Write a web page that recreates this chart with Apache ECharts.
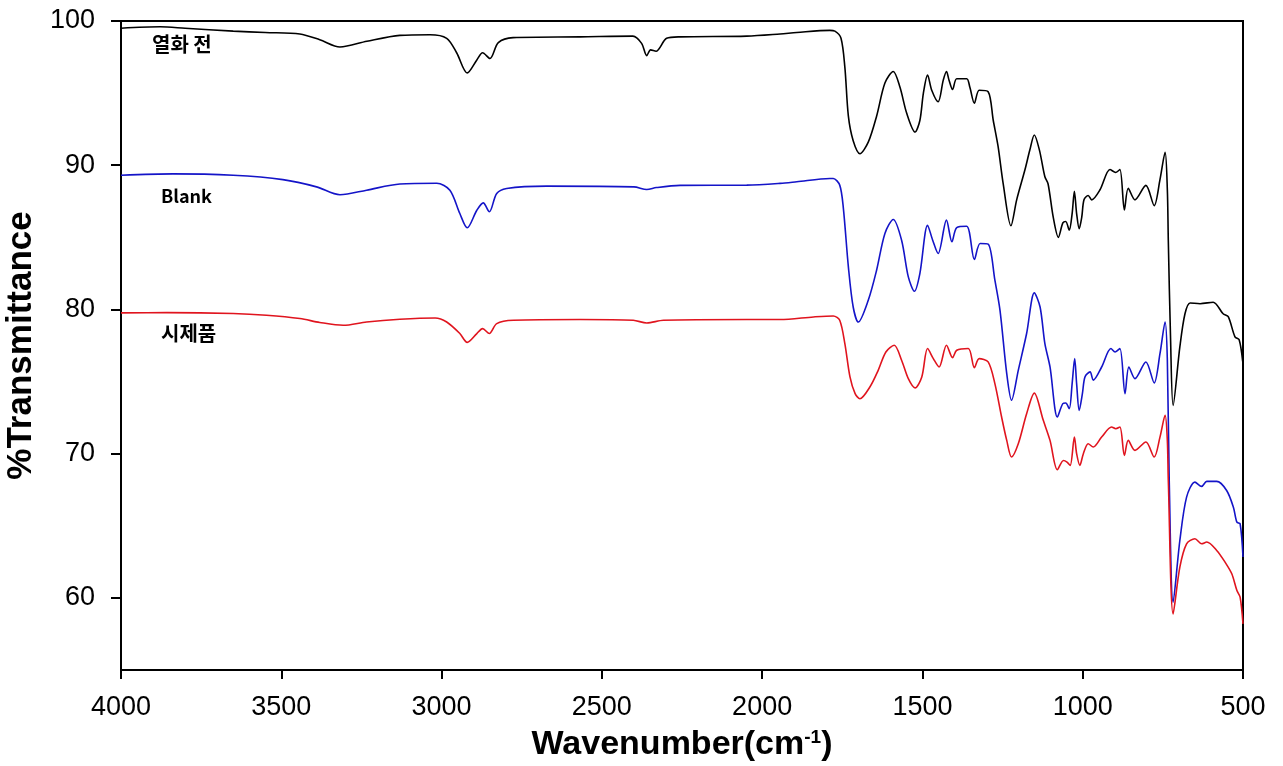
<!DOCTYPE html>
<html>
<head>
<meta charset="utf-8">
<script src="https://cdn.jsdelivr.net/npm/echarts@6/dist/echarts.min.js"></script>
<style>
  html, body { margin: 0; padding: 0; background: #fff; }
  #chart { width: 1283px; height: 766px; }
</style>
</head>
<body>
<div id="chart"></div>
<script>
// wavenumber (cm-1), %T
const beforeAging = [
  [4000, 99.5], [3878, 99.6], [3800, 99.5], [3650, 99.3], [3550, 99.2], [3442, 99.1],
  [3380, 98.7], [3317, 98.2], [3233, 98.6], [3130, 99.0], [3036, 99.05], [2984, 98.8],
  [2953, 97.8], [2920, 96.4], [2890, 97.3], [2872, 97.8], [2849, 97.4], [2823, 98.5],
  [2777, 98.85], [2568, 98.9], [2403, 98.95], [2376, 98.45], [2360, 97.6], [2348, 98.0],
  [2331, 97.9], [2298, 98.8], [2256, 98.9], [2048, 98.95], [1944, 99.1], [1892, 99.2],
  [1789, 99.35], [1773, 99.3], [1754, 98.8], [1742, 96.8], [1731, 93.4], [1716, 91.7],
  [1695, 90.8], [1669, 91.6], [1643, 93.4], [1617, 95.7], [1591, 96.5], [1570, 95.4],
  [1549, 93.6], [1523, 92.3], [1508, 93.1], [1497, 95.0], [1484, 96.25], [1471, 95.2],
  [1451, 94.4], [1435, 95.9], [1425, 96.5], [1417, 95.9], [1406, 95.25], [1393, 96.0],
  [1362, 96.0], [1352, 95.4], [1338, 94.3], [1323, 95.2], [1295, 95.1], [1279, 93.1],
  [1264, 91.3], [1248, 88.7], [1224, 85.8], [1206, 87.6], [1180, 89.7], [1165, 91.05],
  [1151, 92.1], [1135, 91.05], [1118, 89.2], [1108, 88.7], [1092, 86.4], [1076, 85.0],
  [1062, 86.0], [1053, 86.1], [1042, 85.5], [1033, 86.65], [1026, 88.2], [1019, 86.65],
  [1011, 85.6], [1003, 86.4], [996, 87.6], [983, 87.9], [972, 87.6], [946, 88.3],
  [915, 89.7], [897, 89.5], [884, 89.7], [870, 86.9], [858, 88.4], [837, 87.6],
  [803, 88.6], [777, 87.2], [759, 89.0], [743, 90.9], [736, 88.3], [733, 84.8],
  [726, 78.0], [718, 73.35], [697, 77.4], [681, 79.7], [665, 80.45], [634, 80.4],
  [593, 80.5], [562, 79.7], [546, 79.5], [525, 78.1], [512, 77.9], [501, 76.4]
]

const blank = [
  [4000, 89.3], [3838, 89.4], [3650, 89.3], [3495, 89.0], [3390, 88.5], [3317, 87.95],
  [3234, 88.27], [3130, 88.7], [3015, 88.75], [2974, 88.27], [2943, 86.65], [2920, 85.66],
  [2890, 86.88], [2870, 87.39], [2851, 86.77], [2828, 88.04], [2797, 88.39], [2672, 88.55],
  [2400, 88.5], [2360, 88.32], [2330, 88.45], [2256, 88.6], [2048, 88.62], [1944, 88.74],
  [1892, 88.85], [1789, 89.08], [1778, 89.08], [1758, 88.62], [1747, 87.1], [1731, 82.95],
  [1716, 80.17], [1700, 79.13], [1669, 80.64], [1643, 82.72], [1617, 85.27], [1591, 86.24],
  [1565, 84.8], [1544, 82.26], [1525, 81.26], [1508, 82.49], [1484, 85.84], [1468, 84.8],
  [1451, 83.88], [1425, 86.19], [1408, 84.69], [1393, 85.68], [1362, 85.77], [1338, 83.46],
  [1320, 84.57], [1295, 84.53], [1274, 82.03], [1258, 79.94], [1237, 75.55], [1222, 73.7],
  [1201, 75.78], [1175, 78.33], [1151, 81.15], [1133, 80.17], [1118, 77.63], [1102, 76.01],
  [1079, 72.54], [1062, 73.47], [1053, 73.51], [1042, 73.12], [1033, 74.86], [1025, 76.59],
  [1019, 74.86], [1011, 73.0], [1001, 74.16], [993, 75.32], [977, 75.67], [967, 75.1],
  [941, 76.01], [912, 77.29], [899, 77.05], [884, 77.29], [868, 74.16], [856, 76.01],
  [837, 75.2], [803, 76.36], [777, 74.91], [759, 76.93], [743, 79.13], [736, 76.48],
  [730, 68.0], [718, 59.7], [697, 63.98], [676, 66.99], [650, 68.03], [629, 67.73],
  [613, 68.08], [582, 68.08], [551, 67.45], [530, 66.29], [519, 65.25], [509, 65.14],
  [500, 62.83]
]

const prototype = [
  [4000, 79.76], [3857, 79.78], [3650, 79.72], [3546, 79.6], [3442, 79.37], [3380, 79.1],
  [3307, 78.9], [3234, 79.13], [3130, 79.32], [3020, 79.41], [2984, 79.13], [2943, 78.33],
  [2920, 77.72], [2890, 78.33], [2872, 78.67], [2851, 78.33], [2828, 79.02], [2776, 79.25],
  [2568, 79.3], [2402, 79.25], [2360, 79.06], [2308, 79.25], [2048, 79.3], [1944, 79.3],
  [1840, 79.48], [1778, 79.55], [1758, 79.25], [1742, 77.63], [1726, 75.32], [1710, 74.16],
  [1695, 73.81], [1664, 74.62], [1638, 75.78], [1614, 77.05], [1588, 77.52], [1565, 76.48],
  [1544, 75.2], [1523, 74.56], [1502, 75.32], [1484, 77.29], [1466, 76.59], [1448, 76.01],
  [1425, 77.52], [1406, 76.66], [1393, 77.17], [1357, 77.29], [1338, 75.96], [1323, 76.59],
  [1295, 76.36], [1274, 74.86], [1253, 72.54], [1237, 70.92], [1222, 69.77], [1201, 70.69],
  [1175, 72.77], [1151, 74.2], [1123, 72.31], [1102, 70.92], [1079, 68.89], [1060, 69.53],
  [1049, 69.42], [1039, 69.19], [1026, 71.15], [1019, 70.0], [1009, 69.19], [998, 70.0],
  [983, 70.69], [967, 70.46], [941, 71.15], [910, 71.85], [897, 71.73], [884, 71.85],
  [870, 69.88], [858, 70.92], [837, 70.23], [803, 70.81], [777, 69.77], [759, 71.15],
  [743, 72.66], [736, 70.92], [733, 68.15], [718, 58.89], [697, 62.13], [676, 63.75],
  [650, 64.1], [629, 63.75], [613, 63.87], [582, 63.29], [556, 62.48], [535, 61.67],
  [519, 60.51], [509, 60.05], [500, 58.2]
]

const seriesNames = ['열화 전', 'Blank', '시제품']
const seriesColors = ['#000000', '#1414c8', '#e0141e']
const yTicks = [60, 70, 80, 90, 100]

const chart = echarts.init(document.getElementById('chart'))

const lineSeries = [beforeAging, blank, prototype].map((d, i) => ({
  name: seriesNames[i],
  type: 'line',
  data: d,
  showSymbol: false,
  smooth: 0.3,
  lineStyle: { width: 1.6, color: seriesColors[i] },
  z: 3 + i
}))

const labelFont = { fontFamily: 'Noto Sans CJK KR', fontWeight: 'bold', fill: '#000' }

const option = {
  animation: false,
  backgroundColor: '#fff',
  grid: {
    left: 121, right: 40, top: 21, bottom: 96,
    containLabel: false,
    outerBoundsMode: 'none',
    show: true, borderColor: '#000', borderWidth: 2
  },
  xAxis: {
    type: 'value',
    inverse: true,
    min: 500,
    max: 4000,
    interval: 500,
    name: 'Wavenumber(cm{sup|-1})',
    nameLocation: 'middle',
    nameGap: 58,
    nameTextStyle: {
      fontFamily: 'Liberation Sans', fontWeight: 'bold', fontSize: 34, color: '#000',
      rich: { sup: { fontFamily: 'Liberation Sans', fontWeight: 'bold', fontSize: 19, color: '#000', verticalAlign: 'top', padding: [0, 0, 15, 0] } }
    },
    axisLine: { onZero: false, lineStyle: { color: '#000', width: 2 } },
    axisTick: { inside: false, length: 9, lineStyle: { color: '#000', width: 2 } },
    axisLabel: {
      fontFamily: 'Liberation Sans', fontSize: 27, color: '#000', margin: 24,
      formatter: v => String(v)
    },
    splitLine: { show: false }
  },
  yAxis: {
    type: 'value',
    min: 55,
    max: 100,
    name: '%Transmittance',
    nameLocation: 'middle',
    nameGap: 74,
    nameTextStyle: { fontFamily: 'Liberation Sans', fontWeight: 'bold', fontSize: 35, color: '#000' },
    axisLine: { onZero: false, lineStyle: { color: '#000', width: 2 } },
    axisTick: { length: 10, customValues: yTicks, lineStyle: { color: '#000', width: 2 } },
    axisLabel: {
      customValues: yTicks, fontFamily: 'Liberation Sans', fontSize: 27, color: '#000', margin: 26,
      formatter: v => String(v)
    },
    splitLine: { show: false }
  },
  graphic: [
    { type: 'text', left: 152, top: 34, style: Object.assign({ text: seriesNames[0], fontSize: 20 }, labelFont) },
    { type: 'text', left: 161, top: 187, style: Object.assign({ text: seriesNames[1], fontSize: 18 }, labelFont) },
    { type: 'text', left: 161, top: 323, style: Object.assign({ text: seriesNames[2], fontSize: 20 }, labelFont) }
  ],
  series: lineSeries
}

chart.setOption(option)
</script>
</body>
</html>
